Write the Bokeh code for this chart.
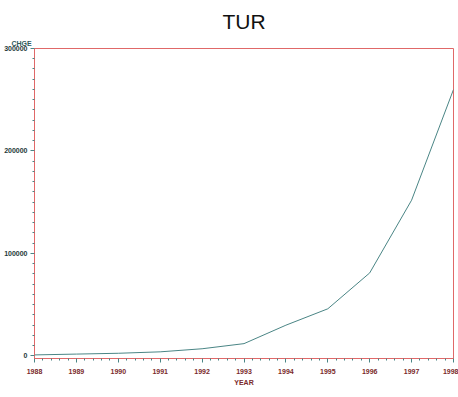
from bokeh.plotting import figure
from bokeh.models import Range1d, FixedTicker, Title
from bokeh.embed import file_html
from bokeh.resources import INLINE

# Yearly CHGE values for TUR
years = [1988, 1989, 1990, 1991, 1992, 1993, 1994, 1995, 1996, 1997, 1998]
chge = [1000, 1800, 2600, 4000, 7000, 12000, 30000, 46000, 81000, 152000, 260000]

y_ticks = [0, 100000, 200000, 300000]

frame_red = "#e06868"
line_teal = "#4a8585"

p = figure(width=458, height=397, output_backend="svg", toolbar_location=None,
           x_range=Range1d(1988, 1998), y_range=Range1d(-2500, 300000),
           min_border_left=34, min_border_right=5, min_border_bottom=39,
           min_border_top=48, title=None)

# variable name sits just above the vertical axis, horizontally
p.add_layout(Title(text="CHGE", align="left", offset=-23, standoff=3,
                   text_font="Liberation Sans", text_font_style="bold",
                   text_font_size="7px", text_color="#2f5a5a"), "above")
# chart heading
p.add_layout(Title(text="TUR", align="center", standoff=8,
                   text_font="Liberation Sans", text_font_style="normal",
                   text_font_size="21px", text_color="#111111"), "above")

p.line(years, chge, line_color=line_teal, line_width=1)

p.outline_line_color = frame_red
p.outline_line_width = 1
p.xgrid.visible = False
p.ygrid.visible = False

p.xaxis.ticker = FixedTicker(ticks=years,
                             minor_ticks=[y + k / 5 for y in years[:-1] for k in range(1, 5)])
p.yaxis.ticker = FixedTicker(ticks=y_ticks,
                             minor_ticks=[v for v in range(10000, 300000, 10000) if v % 100000])
p.yaxis.formatter.use_scientific = False

for ax in (p.xaxis[0], p.yaxis[0]):
    ax.axis_line_color = frame_red
    ax.major_tick_line_color = line_teal
    ax.minor_tick_line_color = line_teal
    ax.major_tick_out = 4
    ax.major_tick_in = 0
    ax.minor_tick_out = 2
    ax.minor_tick_in = 0
    ax.major_label_text_font = "Liberation Sans"
    ax.major_label_text_font_style = "bold"
    ax.major_label_text_font_size = "7px"
    ax.axis_label_text_font = "Liberation Sans"
    ax.axis_label_text_font_style = "bold"
    ax.axis_label_text_font_size = "7px"

p.xaxis.major_label_text_color = "#7a2a2a"
p.xaxis.major_label_standoff = 6
p.xaxis.axis_label = "YEAR"
p.xaxis.axis_label_text_color = "#7a2a2a"
p.xaxis.axis_label_standoff = 2

p.yaxis.major_label_text_color = "#243838"
p.yaxis.major_label_standoff = 3

open("out.html", "w").write(file_html(p, INLINE))
